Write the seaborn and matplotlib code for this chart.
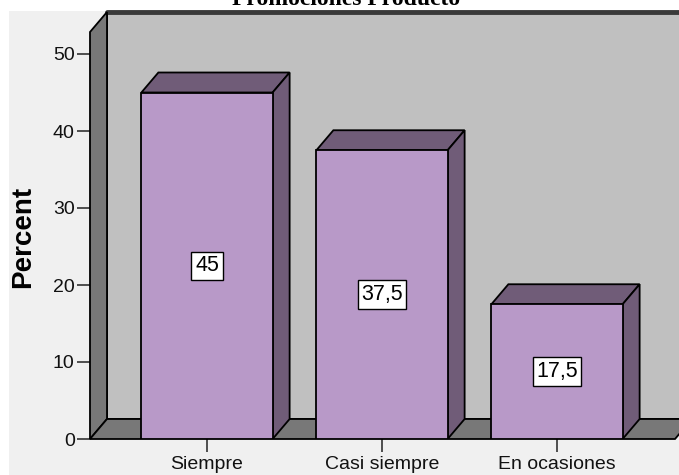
import matplotlib
matplotlib.use("Agg")
import matplotlib.pyplot as plt
import seaborn as sns
import pandas as pd
from matplotlib.patches import Polygon, Rectangle
from matplotlib.lines import Line2D

# Data
categories = ["Siempre", "Casi siempre", "En ocasiones"]
percent = [45, 37.5, 17.5]
value_labels = ["45", "37,5", "17,5"]
y_ticks = [0, 10, 20, 30, 40, 50]

sns.set_theme(style="white")
plt.rcParams["font.family"] = ["Liberation Sans", "DejaVu Sans"]

W, H = 679, 475
fig = plt.figure(figsize=(W / 100, H / 100), dpi=100)
fig.patch.set_facecolor("white")

# light panel behind the chart
fig.add_artist(Rectangle((9 / W, 0), (W - 9) / W, (H - 11) / H,
                         transform=fig.transFigure, facecolor="#F0F0F0",
                         edgecolor="none", zorder=-10))

# front plane of the 3D box, in pixel rows/cols
px_left, px_right = 90, 679
px_bottom, px_top = 439, 12
ax = fig.add_axes([px_left / W, (H - px_bottom) / H,
                   (px_right - px_left) / W, (px_bottom - px_top) / H])
ax.patch.set_visible(False)

df = pd.DataFrame({"cat": categories, "pct": percent})
FRONT = "#B899C8"
SHADE = "#705C78"
WALL = "#787878"
BACK = "#C0C0C0"

sns.barplot(data=df, x="cat", y="pct", ax=ax, color=FRONT, saturation=1,
            width=0.75, edgecolor="black", linewidth=1.3, zorder=3)

# scales: 175 px per category, 7.7 px per percent
x0_px = 207
xl = (px_left - x0_px) / 175
xr = (px_right - x0_px) / 175
ytop = (px_bottom - px_top) / 7.7
ax.set_xlim(xl, xr)
ax.set_ylim(0, ytop)

dx = 17 / 175
dy = 20 / 7.7
floor_end = (675 - x0_px) / 175

# back wall
ax.add_patch(Rectangle((xl + dx, dy), xr - xl + 1, ytop, facecolor=BACK,
                       edgecolor="black", linewidth=1.3, zorder=0.5))
ax.add_line(Line2D([xl + dx, xr + 1], [ytop, ytop], color="#3A3A3A",
                   linewidth=3.5, zorder=0.6, clip_on=False))
# left wall
ax.add_patch(Polygon([(xl, 0), (xl, ytop - dy), (xl + dx, ytop), (xl + dx, dy)],
                     closed=True, facecolor=WALL, edgecolor="black",
                     linewidth=1.3, zorder=1, clip_on=False))
# floor
ax.add_patch(Polygon([(xl, 0), (floor_end, 0), (floor_end + dx, dy), (xl + dx, dy)],
                     closed=True, facecolor=WALL, edgecolor="black",
                     linewidth=1.3, zorder=1, clip_on=False))

# 3D top and side faces of each bar, plus value labels
for p, lab in zip(ax.patches[:len(categories)], value_labels):
    x0 = p.get_x()
    w = p.get_width()
    h = p.get_height()
    x1 = x0 + w
    top = Polygon([(x0, h), (x1, h), (x1 + dx, h + dy), (x0 + dx, h + dy)],
                  closed=True, facecolor=SHADE, edgecolor="black",
                  linewidth=1.3, zorder=2.5)
    side = Polygon([(x1, 0), (x1 + dx, dy), (x1 + dx, h + dy), (x1, h)],
                   closed=True, facecolor=SHADE, edgecolor="black",
                   linewidth=1.3, zorder=2.5)
    ax.add_patch(top)
    ax.add_patch(side)
    ax.text(x0 + w / 2, h / 2, lab, ha="center", va="center", fontsize=15.5,
            color="black", zorder=5,
            bbox=dict(boxstyle="square,pad=0.17", facecolor="white",
                      edgecolor="black", linewidth=1))

for s in ax.spines.values():
    s.set_visible(False)

ax.set_yticks(y_ticks)
ax.set_yticklabels([str(t) for t in y_ticks])
ax.set_xlabel("")
ax.set_ylabel("")
ax.tick_params(axis="both", which="both", direction="out", length=9.5,
               width=1.1, color="#222222", labelsize=14, labelcolor="#111111")
ax.tick_params(axis="y", pad=1.5, left=True)
ax.tick_params(axis="x", pad=3.0, bottom=True)

fig.text(23 / W, (H - 237) / H, "Percent", rotation=90, ha="center",
         va="center", fontsize=20, fontweight="bold", color="black")
fig.text(346 / W, (H - 5) / H, "Promociones Producto", ha="center",
         va="baseline", fontsize=17, fontweight="bold",
         family=["Liberation Serif", "DejaVu Serif"], color="black")

fig.savefig("out.png", dpi=100)
